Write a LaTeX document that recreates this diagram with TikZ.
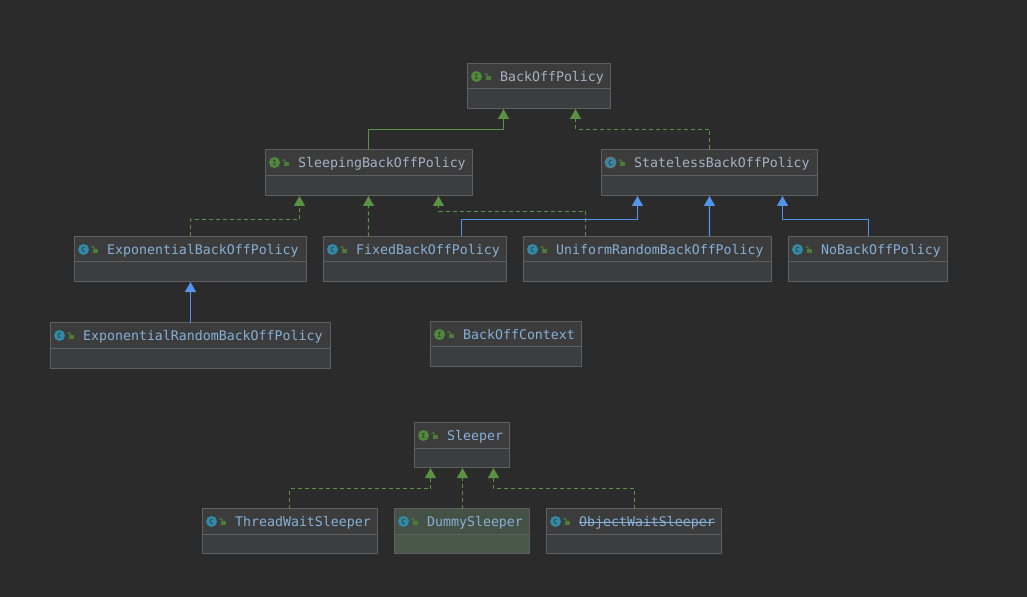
\documentclass[tikz,border=0pt]{standalone}
\usepackage{fontspec}
\setmonofont{DejaVu Sans Mono}
\usetikzlibrary{arrows.meta,calc}
\definecolor{bgc}{HTML}{2B2B2B}
\definecolor{boxlow}{HTML}{3A3E41}
\definecolor{boxtop}{HTML}{3C3C3C}
\definecolor{boxline}{HTML}{5E5F60}
\definecolor{dumlow}{HTML}{4A584A}
\definecolor{dumtop}{HTML}{465146}
\definecolor{dumdiv}{HTML}{566356}
\definecolor{grn}{HTML}{5A9244}
\definecolor{blu}{HTML}{5394EC}
\definecolor{icong}{HTML}{4E8A38}
\definecolor{iconb}{HTML}{2F8AA8}
\definecolor{ringc}{HTML}{6E7478}
\definecolor{txtg}{HTML}{A3B2C6}
\definecolor{txtb}{HTML}{85B0D8}
\newsavebox{\strikebox}
\newcommand{\strikeit}[1]{\sbox{\strikebox}{#1}\rlap{\usebox{\strikebox}}\rule[0.28em]{\wd\strikebox}{0.7pt}}
\tikzset{
  x=1bp,y=-1bp,
  umlbox/.style={draw=boxline,line width=1bp,inner sep=0pt,outer sep=0pt,rectangle},
  umltext/.style={anchor=base west,inner sep=0pt,font=\ttfamily\fontsize{13.3}{14}\selectfont},
  umlicon/.style={circle,inner sep=0pt,minimum size=11bp,text=black!75,font=\ttfamily\bfseries\fontsize{7}{7}\selectfont},
  lockbody/.style={fill=grn!85!black},
  lockarc/.style={draw=grn!85!black,line width=0.9bp},
  conn/.style={line width=1.05bp,shorten >=0.5bp},
  impl/.style={conn,draw=grn,dash pattern=on 4bp off 3bp,-{Triangle[width=11bp,length=10bp,fill=grn]}},
  extg/.style={conn,draw=grn,-{Triangle[width=11bp,length=10bp,fill=grn]}},
  extb/.style={conn,draw=blu,-{Triangle[width=11bp,length=10bp,fill=blu]}},
}
\def\divoff{20}
\def\lowc{boxlow}
\def\topc{boxtop}
\def\divc{boxline}
% name, x0, y0, x1, y1, icon colour, letter, text colour, text
\newcommand{\umlnode}[9]{%
  \node[umlbox,fill=\lowc,minimum width={(#4-#2)*1bp},minimum height={(#5-#3)*1bp}] (#1) at ({(#2+#4)/2},{(#3+#5)/2}) {};
  \fill[\topc] ([shift={(0.5,0.5)}]#1.north west) rectangle ([shift={(-0.5,-\divoff)}]#1.south east);
  \draw[\divc,line width=1bp] ([yshift=\divoff bp]#1.south west) -- ([yshift=\divoff bp]#1.south east);
  \node[umlicon,fill=#6] (#1-i) at ([shift={(9,13)}]#1.north west) {#7};
  \fill[lockbody] ([shift={(18,12.5)}]#1.north west) rectangle ([shift={(23,16.5)}]#1.north west);
  \draw[lockarc] ([shift={(20,12.5)}]#1.north west) -- ([shift={(20,11.5)}]#1.north west) arc[start angle=0,end angle=180,radius=1.5bp];
  \node[umltext,text=#8] (#1-t) at ([shift={(32.5,18)}]#1.north west) {#9};
}
\begin{document}
\begin{tikzpicture}
\useasboundingbox (0,0) rectangle (1027,597);
\fill[bgc] (0,0) rectangle (1027,597);

\umlnode{backoff}{467.5}{63.5}{610.5}{108.5}{icong}{I}{txtg}{BackOffPolicy}
\umlnode{sleeping}{265.5}{149.5}{472.5}{195.5}{icong}{I}{txtg}{SleepingBackOffPolicy}
\umlnode{stateless}{601.5}{149.5}{817.5}{195.5}{iconb}{C}{txtg}{StatelessBackOffPolicy}
\draw[ringc,line width=1bp] (stateless-i) circle[radius=5.5bp];
\umlnode{expo}{74.5}{236.5}{306.5}{281.5}{iconb}{C}{txtb}{ExponentialBackOffPolicy}
\umlnode{fixed}{323.5}{236.5}{506.5}{281.5}{iconb}{C}{txtb}{FixedBackOffPolicy}
\umlnode{uniform}{523.5}{236.5}{771.5}{281.5}{iconb}{C}{txtb}{UniformRandomBackOffPolicy}
\umlnode{noback}{788.5}{236.5}{947.5}{281.5}{iconb}{C}{txtb}{NoBackOffPolicy}
\umlnode{exporand}{50.5}{322.5}{330.5}{368.5}{iconb}{C}{txtb}{ExponentialRandomBackOffPolicy}
\umlnode{context}{430.5}{321.5}{581.5}{366.5}{icong}{I}{txtb}{BackOffContext}
\def\divoff{19}
\umlnode{sleeper}{414.5}{422.5}{509.5}{467.5}{icong}{I}{txtb}{Sleeper}
\umlnode{thread}{202.5}{508.5}{377.5}{553.5}{iconb}{C}{txtb}{ThreadWaitSleeper}
\umlnode{object}{546.5}{508.5}{721.5}{553.5}{iconb}{C}{txtb}{\strikeit{ObjectWaitSleeper}}
\def\lowc{dumlow}\def\topc{dumtop}\def\divc{dumdiv}
\umlnode{dummy}{394.5}{508.5}{529.5}{553.5}{iconb}{C}{txtb}{DummySleeper}

% top level
\draw[extg] ([xshift=-0.5bp]sleeping.north) -- ++(0,-20) -| ([xshift=-35.5bp]backoff.south);
\draw[impl] (stateless.north) -- ++(0,-20) -| ([xshift=36.5bp]backoff.south);
% to SleepingBackOffPolicy
\draw[impl] (expo.north) -- ++(0,-17) -| ([xshift=-69.5bp]sleeping.south);
\draw[impl] ([xshift=-46.5bp]fixed.north) -- ([xshift=-0.5bp]sleeping.south);
\draw[impl] ([xshift=-62bp]uniform.north) -- ++(0,-25) -| ([xshift=69.5bp]sleeping.south);
% to StatelessBackOffPolicy
\draw[extb] ([xshift=46.5bp]fixed.north) -- ++(0,-17) -| ([xshift=-72bp]stateless.south);
\draw[extb] ([xshift=62bp]uniform.north) -- (stateless.south);
\draw[extb] ([xshift=0.5bp]noback.north) -- ++(0,-17) -| ([xshift=73bp]stateless.south);
% exponential
\draw[extb] (exporand.north) -- (expo.south);
% sleeper
\draw[impl] ([xshift=-0.5bp]thread.north) -- ++(0,-20) -| ([xshift=-31.5bp]sleeper.south);
\draw[impl] ([xshift=0.5bp]dummy.north) -- ([xshift=0.5bp]sleeper.south);
\draw[impl] ([xshift=0.5bp]object.north) -- ++(0,-20) -| ([xshift=31.5bp]sleeper.south);
\end{tikzpicture}
\end{document}
